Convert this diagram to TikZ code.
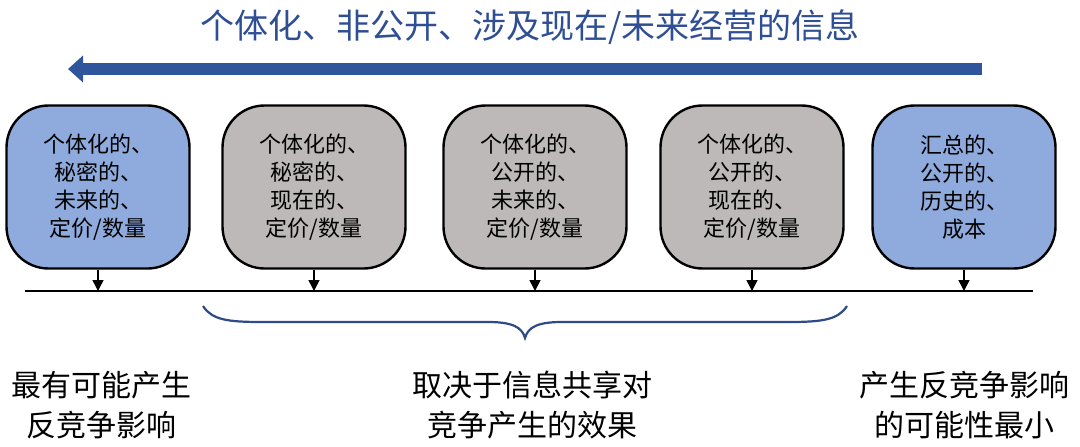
\documentclass[tikz,border=0pt]{standalone}
\usepackage{fontspec}
\newfontfamily\cjk{Noto Sans CJK SC}
\usepackage{tikz}
\usetikzlibrary{
  arrows.meta              % triangle arrowheads
}
\definecolor{titleblue}{HTML}{2F4F94}
\definecolor{arrowblue}{HTML}{2F559C}
\definecolor{bracecol}{HTML}{2E4A88}
\definecolor{boxblue}{HTML}{8FAADC}
\definecolor{boxgray}{HTML}{BDB9B8}

\begin{document}
\begin{tikzpicture}[
    x=1pt, y=-1pt,
    every node/.style={align=center, font=\cjk},
    infobox/.style={rectangle, rounded corners=42pt, draw=black, line width=2.4pt,
                    minimum width=183pt, minimum height=163pt, inner sep=0pt,
                    font=\cjk\fontsize{22}{28}\selectfont},
    bluebox/.style={infobox, fill=boxblue},
    graybox/.style={infobox, fill=boxgray},
    titletext/.style={text=titleblue, font=\cjk\fontsize{34}{36}\selectfont},
    effecttext/.style={font=\cjk\fontsize{30}{40}\selectfont},
    drop/.style={-{Triangle[length=11pt, width=11pt]}, line width=1.6pt}
]
  \useasboundingbox (0,0) rectangle (1080,447);

  % heading and direction arrow
  \node[titletext] (title) at (530,27) {个体化、非公开、涉及现在/未来经营的信息};
  \coordinate (arrowR) at (982,69);
  \coordinate (arrowL) at (68,69);
  \draw[line width=12pt, draw=arrowblue,
        -{Triangle[length=15pt, width=26pt]}] (arrowR) -- (arrowL);

  % information types
  \node[bluebox] (priv)  at (98,187)  {个体化的、\\秘密的、\\未来的、\\定价/数量};
  \node[graybox] (secr)  at (314,187) {个体化的、\\秘密的、\\现在的、\\定价/数量};
  \node[graybox] (pubf)  at (535,187) {个体化的、\\公开的、\\未来的、\\定价/数量};
  \node[graybox] (pubn)  at (752,187) {个体化的、\\公开的、\\现在的、\\定价/数量};
  \node[bluebox] (aggr)  at (964,187) {汇总的、\\公开的、\\历史的、\\成本};

  % axis
  \coordinate (axisL) at (25,291);
  \coordinate (axisR) at (1033,291);
  \draw[line width=2.4pt] (axisL) -- (axisR);

  \draw[drop] (priv.south) -- (priv.south |- axisL);
  \draw[drop] (secr.south) -- (secr.south |- axisL);
  \draw[drop] (pubf.south) -- (pubf.south |- axisL);
  \draw[drop] (pubn.south) -- (pubn.south |- axisL);
  \draw[drop] (aggr.south) -- (aggr.south |- axisL);

  % brace under the middle three
  \draw[draw=bracecol, line width=2.2pt]
       (203,306) .. controls (212,320) and (228,322) .. (262,322)
       -- (488,322) .. controls (512,322) and (522,327) .. (525,338)
       .. controls (528,327) and (538,322) .. (562,322)
       -- (788,322) .. controls (822,322) and (838,320) .. (847,306);

  % effects
  \node[effecttext] (most) at (102,405) {最有可能产生\\反竞争影响};
  \node[effecttext] (dep)  at (532,405) {取决于信息共享对\\竞争产生的效果};
  \node[effecttext] (least) at (964,405) {产生反竞争影响\\的可能性最小};
\end{tikzpicture}
\end{document}
